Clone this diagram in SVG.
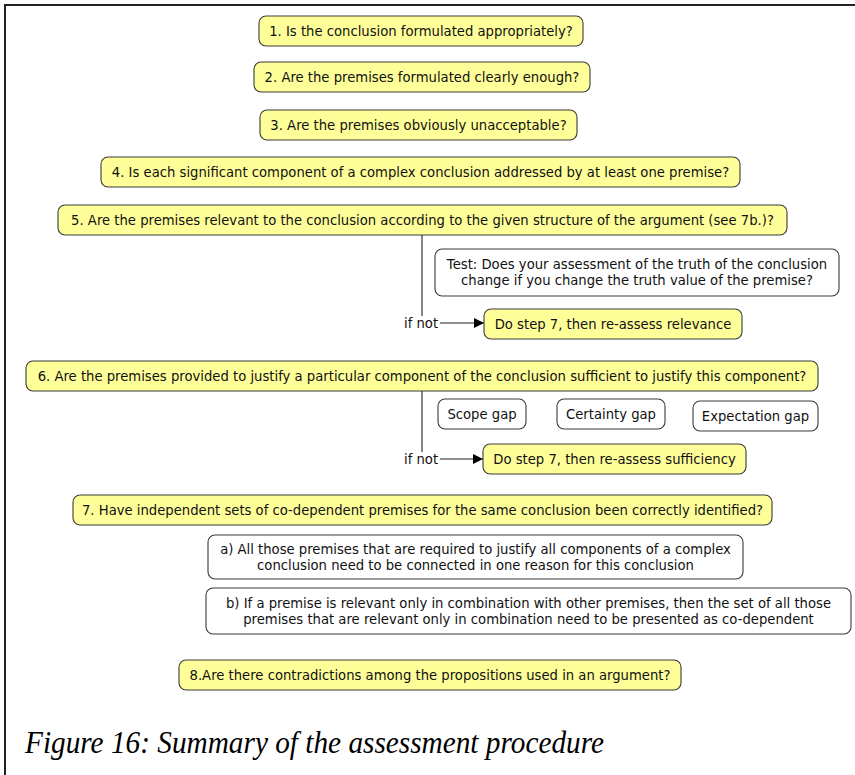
<svg xmlns="http://www.w3.org/2000/svg" width="855" height="775" viewBox="0 0 855 775">
<style>
.y{fill:#ffff99;stroke:#3a3a3a;stroke-width:1.1}
.w{fill:#ffffff;stroke:#3a3a3a;stroke-width:1.1}
.t{font-family:"DejaVu Sans","Verdana",sans-serif;font-size:13.2px;fill:#111;text-anchor:middle}
.c{stroke:#222;stroke-width:1.1;fill:none}
.lbl{font-family:"DejaVu Sans","Verdana",sans-serif;font-size:13.2px;fill:#111;text-anchor:start}
.cap{font-family:"Liberation Serif","Times New Roman",serif;font-style:italic;font-size:31px;fill:#000}
</style>
<defs>
<marker id="arr" viewBox="0 0 10 10" refX="10" refY="5" markerWidth="10" markerHeight="10" markerUnits="userSpaceOnUse" orient="auto">
<path d="M0,0 L10,5 L0,10 z" fill="#000"/>
</marker>
</defs>
<rect width="855" height="775" fill="#fff"/>
<path d="M5,775 V5 H855" fill="none" stroke="#222" stroke-width="2"/>

<g id="connectors">
<line class="c" x1="422" y1="235" x2="422" y2="316"/>
<line class="c" x1="440" y1="323" x2="484" y2="323" marker-end="url(#arr)"/>
<text class="lbl" x="404" y="327.5">if not</text>
<line class="c" x1="422" y1="391" x2="422" y2="452"/>
<line class="c" x1="440" y1="459" x2="483" y2="459" marker-end="url(#arr)"/>
<text class="lbl" x="404" y="463.5">if not</text>
</g>

<g id="n1"><rect class="y" x="259" y="16" width="324" height="30" rx="7"/><text class="t" x="421" y="35.7">1. Is the conclusion formulated appropriately?</text></g>
<g id="n2"><rect class="y" x="254" y="62" width="336" height="30" rx="7"/><text class="t" x="422" y="81.7">2. Are the premises formulated clearly enough?</text></g>
<g id="n3"><rect class="y" x="260" y="110" width="317" height="30" rx="7"/><text class="t" x="418.5" y="129.7">3. Are the premises obviously unacceptable?</text></g>
<g id="n4"><rect class="y" x="101" y="157" width="639" height="30" rx="7"/><text class="t" x="420.5" y="176.7">4. Is each significant component of a complex conclusion addressed by at least one premise?</text></g>
<g id="n5"><rect class="y" x="58" y="205" width="729" height="30" rx="7"/><text class="t" x="422.5" y="224.7">5. Are the premises relevant to the conclusion according to the given structure of the argument (see 7b.)?</text></g>
<g id="test"><rect class="w" x="435" y="249" width="404" height="47" rx="7"/><text class="t" x="637" y="269.2">Test: Does your assessment of the truth of the conclusion</text><text class="t" x="637" y="285.2">change if you change the truth value of the premise?</text></g>
<g id="relevance"><rect class="y" x="484" y="309" width="258" height="30" rx="7"/><text class="t" x="613" y="328.7">Do step 7, then re-assess relevance</text></g>
<g id="n6"><rect class="y" x="26" y="361" width="792" height="30" rx="7"/><text class="t" x="422" y="380.7">6. Are the premises provided to justify a particular component of the conclusion sufficient to justify this component?</text></g>
<g id="scope"><rect class="w" x="438" y="399" width="88" height="30" rx="7"/><text class="t" x="482" y="418.7">Scope gap</text></g>
<g id="certainty"><rect class="w" x="557" y="399" width="108" height="30" rx="7"/><text class="t" x="611" y="418.7">Certainty gap</text></g>
<g id="expectation"><rect class="w" x="693" y="401" width="125" height="30" rx="7"/><text class="t" x="755.5" y="420.7">Expectation gap</text></g>
<g id="sufficiency"><rect class="y" x="483" y="444" width="263" height="30" rx="7"/><text class="t" x="614.5" y="463.7">Do step 7, then re-assess sufficiency</text></g>
<g id="n7"><rect class="y" x="73" y="495" width="699" height="30" rx="7"/><text class="t" x="422.5" y="514.7">7. Have independent sets of co-dependent premises for the same conclusion been correctly identified?</text></g>
<g id="n7a"><rect class="w" x="208" y="535" width="535" height="44" rx="7"/><text class="t" x="475.5" y="553.7">a) All those premises that are required to justify all components of a complex</text><text class="t" x="475.5" y="569.7">conclusion need to be connected in one reason for this conclusion</text></g>
<g id="n7b"><rect class="w" x="206" y="588" width="645" height="46" rx="7"/><text class="t" x="528.5" y="607.7">b) If a premise is relevant only in combination with other premises, then the set of all those</text><text class="t" x="528.5" y="623.7">premises that are relevant only in combination need to be presented as co-dependent</text></g>
<g id="n8"><rect class="y" x="179" y="660" width="502" height="30" rx="7"/><text class="t" x="430" y="679.7">8.Are there contradictions among the propositions used in an argument?</text></g>

<text class="cap" x="25" y="753" textLength="579" lengthAdjust="spacingAndGlyphs">Figure 16: Summary of the assessment procedure</text>
</svg>
